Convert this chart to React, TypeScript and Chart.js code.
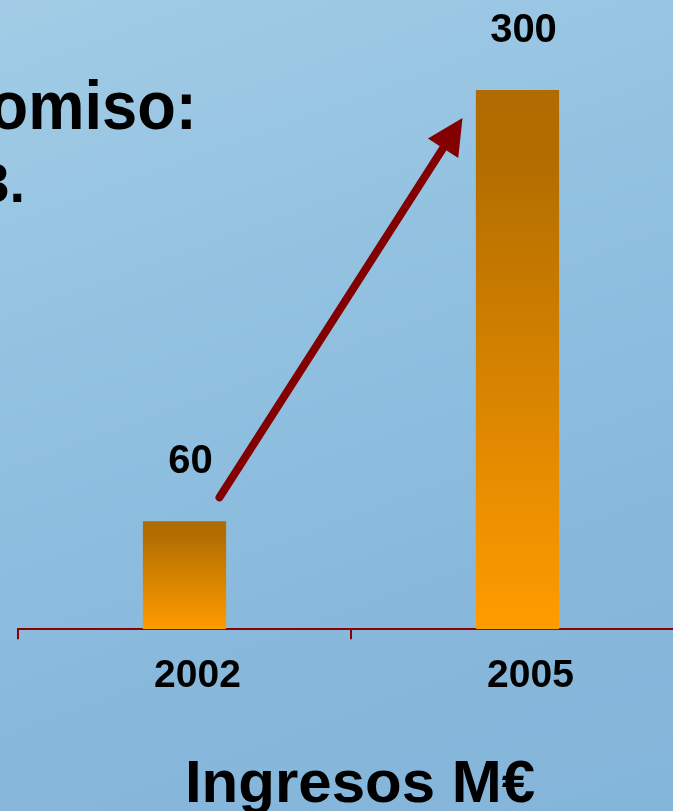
import React, { useEffect, useRef } from "react";
import { Chart, registerables } from "chart.js";
Chart.register(...registerables);

const categories = ["2002", "2005"];
const ingresos = [60, 300];
const valueLabels = ["60", "300"];
const slideLineA = "omiso:";
const slideLineB = "3.";
const axisTitle = "Ingresos M€";

const FONT = "'Liberation Sans', Arial, sans-serif";

export default function App() {
  const ref = useRef<HTMLCanvasElement>(null);
  useEffect(() => {
    document.body.style.margin = "0";
    document.body.style.overflow = "hidden";
    const ctx = ref.current!.getContext("2d")!;

    const overlay = {
      id: "overlay",
      afterDatasetsDraw(chart: any) {
        const c = chart.ctx;
        const xs = chart.scales.x;
        const ys = chart.scales.y;
        c.save();
        // value labels
        c.font = `bold 40px ${FONT}`;
        c.fillStyle = "#000";
        c.textAlign = "center";
        c.textBaseline = "middle";
        ingresos.forEach((v, i) => {
          const x = xs.getPixelForValue(i) + 6;
          const y = ys.getPixelForValue(v) - 59;
          c.fillText(valueLabels[i], x, y);
        });
        // arrow
        const sx = xs.getPixelForValue(0) + 35;
        const sy = ys.getPixelForValue(ingresos[0]) - 24;
        const tx = xs.getPixelForValue(1) - 55;
        const ty = ys.getPixelForValue(ingresos[1]) + 28;
        const ang = Math.atan2(ty - sy, tx - sx);
        const headLen = 36;
        const halfW = 18;
        const bx = tx - headLen * Math.cos(ang);
        const by = ty - headLen * Math.sin(ang);
        c.strokeStyle = "#820000";
        c.fillStyle = "#820000";
        c.lineWidth = 8;
        c.lineCap = "round";
        c.beginPath();
        c.moveTo(sx, sy);
        c.lineTo(bx + 6 * Math.cos(ang), by + 6 * Math.sin(ang));
        c.stroke();
        c.beginPath();
        c.moveTo(tx, ty);
        c.lineTo(bx - halfW * Math.sin(ang), by + halfW * Math.cos(ang));
        c.lineTo(bx + halfW * Math.sin(ang), by - halfW * Math.cos(ang));
        c.closePath();
        c.fill();
        c.restore();
      },
    };

    const chart = new Chart(ctx, {
      type: "bar",
      data: {
        labels: categories,
        datasets: [
          {
            data: ingresos,
            barPercentage: 0.25,
            categoryPercentage: 1,
            borderWidth: 0,
            backgroundColor: (c: any) => {
              const ch = c.chart;
              if (!ch.chartArea || c.type !== "data" || !ch.scales.y) return "#d98400";
              const y = ch.scales.y;
              const top = y.getPixelForValue(c.raw as number);
              const base = y.getPixelForValue(0);
              const g = ch.ctx.createLinearGradient(0, top, 0, base);
              g.addColorStop(0, "#b06c00");
              g.addColorStop(0.12, "#b26d00");
              g.addColorStop(1, "#ff9c00");
              return g;
            },
          },
        ],
      },
      options: {
        responsive: false,
        animation: false,
        layout: { padding: { left: 18, right: 6, top: 0, bottom: 97 } },
        plugins: { legend: { display: false }, tooltip: { enabled: false } },
        scales: {
          y: { display: false, min: 0, max: 350 },
          x: {
            grid: {
              drawOnChartArea: false,
              drawTicks: true,
              tickLength: 10,
              color: "#8b0000",
              lineWidth: 2,
              offset: true,
            },
            border: { color: "#8b0000", width: 2 },
            ticks: {
              color: "#000",
              padding: 14,
              labelOffset: 13,
              font: { family: FONT, size: 39, weight: "bold" },
            },
          },
        },
      },
      plugins: [overlay],
    });
    return () => chart.destroy();
  }, []);

  return (
    <div
      style={{
        position: "relative",
        width: 673,
        height: 811,
        overflow: "hidden",
        background:
          "linear-gradient(160deg, #a2cce6 0%, #93c2e1 35%, #88b9dc 70%, #84b5da 100%)",
        fontFamily: FONT,
      }}
    >
      <div style={{ position: "absolute", left: 0, top: 0, width: 690, height: 811 }}>
        <canvas ref={ref} width={690} height={811} style={{ display: "block" }} />
      </div>
      <div
        style={{
          position: "absolute",
          right: 673 - 197,
          top: 71,
          fontSize: 68,
          lineHeight: 1,
          fontWeight: "bold",
          color: "#000",
          whiteSpace: "nowrap",
          transform: "scaleX(0.93)",
          transformOrigin: "right center",
        }}
      >
        {slideLineA}
      </div>
      <div
        style={{
          position: "absolute",
          right: 673 - 25,
          top: 155,
          fontSize: 56,
          lineHeight: 1,
          fontWeight: "bold",
          color: "#000",
          whiteSpace: "nowrap",
        }}
      >
        {slideLineB}
      </div>
      <div
        style={{
          position: "absolute",
          left: 0,
          width: 720,
          top: 752,
          textAlign: "center",
          fontSize: 60,
          lineHeight: 1,
          fontWeight: "bold",
          color: "#000",
          whiteSpace: "nowrap",
        }}
      >
        {axisTitle}
      </div>
    </div>
  );
}
